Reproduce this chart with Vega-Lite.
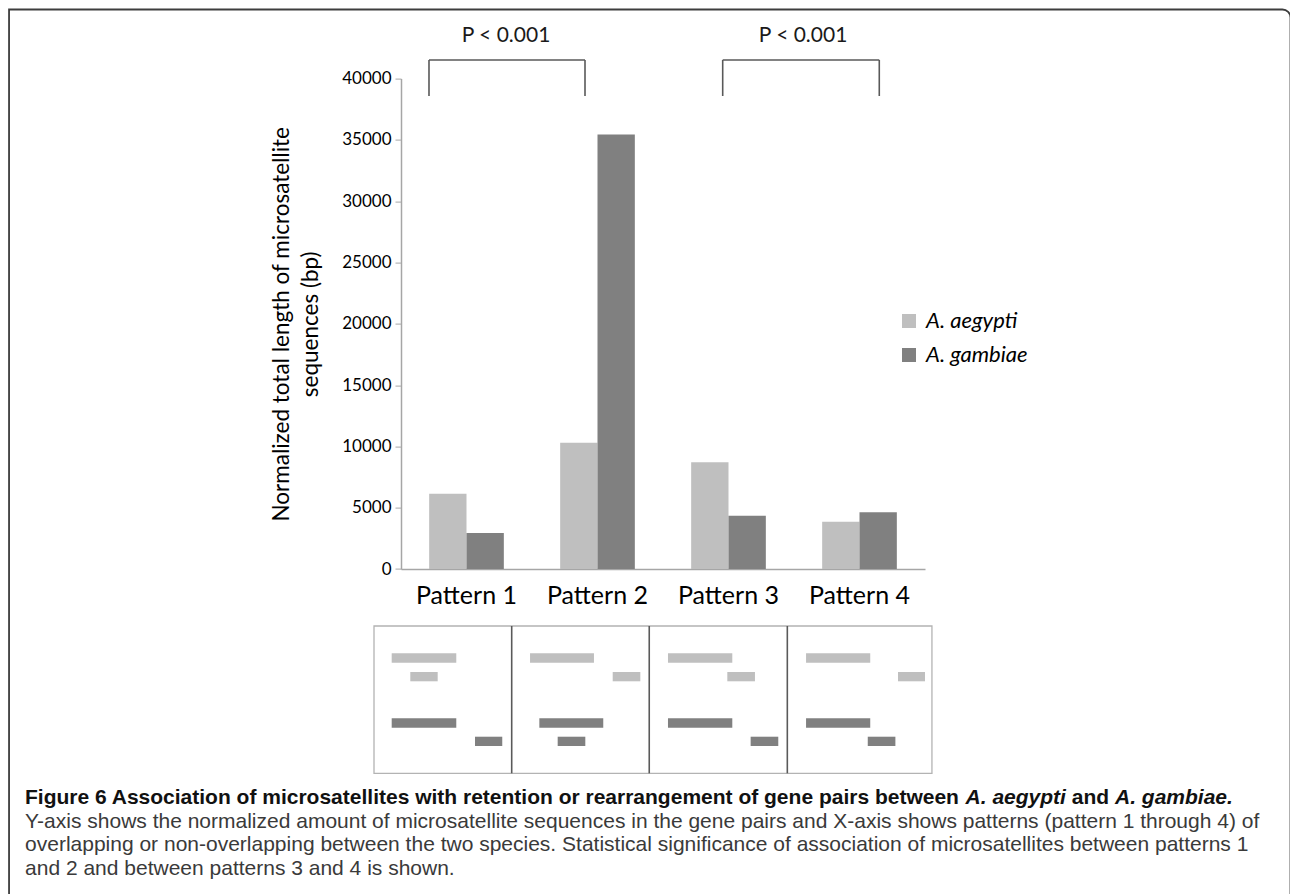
{
  "$schema": "https://vega.github.io/schema/vega-lite/v6.json",
  "width": 524,
  "height": 490.4,
  "autosize": {"type": "none"},
  "padding": {"left": 401, "top": 78.6, "right": 365, "bottom": 325},
  "background": "white",
  "config": {"view": {"stroke": null}, "font": "Lato"},
  "datasets": {
    "bars": [
      {"pattern": "Pattern 1", "species": "A. aegypti", "value": 6140},
      {"pattern": "Pattern 1", "species": "A. gambiae", "value": 2935},
      {"pattern": "Pattern 2", "species": "A. aegypti", "value": 10300},
      {"pattern": "Pattern 2", "species": "A. gambiae", "value": 35450},
      {"pattern": "Pattern 3", "species": "A. aegypti", "value": 8700},
      {"pattern": "Pattern 3", "species": "A. gambiae", "value": 4350},
      {"pattern": "Pattern 4", "species": "A. aegypti", "value": 3860},
      {"pattern": "Pattern 4", "species": "A. gambiae", "value": 4620}
    ],
    "brackets": [
      {"u1": 0.7137, "u2": 1.9046, "v1": 41517, "v2": 41517},
      {"u1": 0.7137, "u2": 0.7137, "v1": 41517, "v2": 38581},
      {"u1": 1.9046, "u2": 1.9046, "v1": 41517, "v2": 38581},
      {"u1": 2.9557, "u2": 4.151, "v1": 41517, "v2": 41517},
      {"u1": 2.9557, "u2": 2.9557, "v1": 41517, "v2": 38581},
      {"u1": 4.151, "u2": 4.151, "v1": 41517, "v2": 38581}
    ],
    "ptext": [
      {"label": "P < 0.001", "u": 1.3015, "v": 43010},
      {"label": "P < 0.001", "u": 3.569, "v": 43010}
    ],
    "dividers": [
      {"u": 1.345}, {"u": 2.395}, {"u": 3.449}
    ],
    "diagram": [
      {"species": "A. aegypti", "u1": 0.429, "u2": 0.922, "t1": -6876, "t2": -7643},
      {"species": "A. aegypti", "u1": 0.571, "u2": 0.780, "t1": -8401, "t2": -9160},
      {"species": "A. gambiae", "u1": 0.429, "u2": 0.922, "t1": -12178, "t2": -12945},
      {"species": "A. gambiae", "u1": 1.065, "u2": 1.273, "t1": -13679, "t2": -14437},
      {"species": "A. aegypti", "u1": 1.485, "u2": 1.973, "t1": -6876, "t2": -7643},
      {"species": "A. aegypti", "u1": 2.116, "u2": 2.327, "t1": -8401, "t2": -9160},
      {"species": "A. gambiae", "u1": 1.556, "u2": 2.044, "t1": -12178, "t2": -12945},
      {"species": "A. gambiae", "u1": 1.696, "u2": 1.907, "t1": -13679, "t2": -14437},
      {"species": "A. aegypti", "u1": 2.538, "u2": 3.029, "t1": -6876, "t2": -7643},
      {"species": "A. aegypti", "u1": 2.991, "u2": 3.202, "t1": -8401, "t2": -9160},
      {"species": "A. gambiae", "u1": 2.538, "u2": 3.029, "t1": -12178, "t2": -12945},
      {"species": "A. gambiae", "u1": 3.169, "u2": 3.380, "t1": -13679, "t2": -14437},
      {"species": "A. aegypti", "u1": 3.592, "u2": 4.082, "t1": -6876, "t2": -7643},
      {"species": "A. aegypti", "u1": 4.294, "u2": 4.500, "t1": -8401, "t2": -9160},
      {"species": "A. gambiae", "u1": 3.592, "u2": 4.082, "t1": -12178, "t2": -12945},
      {"species": "A. gambiae", "u1": 4.063, "u2": 4.274, "t1": -13679, "t2": -14437}
    ],
    "captionTitleUpright": [
      {"text": "Figure 6 Association of microsatellites with retention or rearrangement of gene pairs between", "u": -2.3702, "v": -19169},
      {"text": "and", "u": 5.6206, "v": -19169}
    ],
    "captionTitleItalic": [
      {"text": "A. aegypti", "u": 4.8099, "v": -19169},
      {"text": "A. gambiae.", "u": 5.9504, "v": -19169}
    ],
    "captionBody": [
      {"text": "Y-axis shows the normalized amount of microsatellite sequences in the gene pairs and X-axis shows patterns (pattern 1 through 4) of", "u": -2.37, "v": -21086},
      {"text": "overlapping or non-overlapping between the two species. Statistical significance of association of microsatellites between patterns 1", "u": -2.37, "v": -23003},
      {"text": "and 2 and between patterns 3 and 4 is shown.", "u": -2.37, "v": -24919}
    ],
    "border": [
      {"u1": -2.492, "u2": 7.29, "v1": 45636, "v2": -27406}
    ]
  },
  "layer": [
    {
      "data": {"name": "border"},
      "mark": {"type": "rect", "fill": "white", "fillOpacity": 0, "stroke": "#3d3d3d", "strokeWidth": 1.8, "cornerRadiusTopRight": 8},
      "encoding": {
        "x": {"field": "u1", "type": "quantitative", "scale": {"domain": [0.5, 4.5], "nice": false, "zero": false}, "axis": null},
        "x2": {"field": "u2"},
        "y": {"field": "v1", "type": "quantitative", "scale": {"domain": [0, 40000], "nice": false, "zero": false}, "axis": null},
        "y2": {"field": "v2"}
      }
    },
    {
      "data": {"name": "bars"},
      "mark": {"type": "bar"},
      "encoding": {
        "x": {
          "field": "pattern", "type": "nominal",
          "scale": {"paddingInner": 0.43, "paddingOuter": 0.215},
          "axis": {"title": null, "labelAngle": 0, "labelFontSize": 25, "labelColor": "#000", "ticks": false, "tickSize": 0, "labelPadding": 14, "domainColor": "#a6a6a6", "domainWidth": 1.5}
        },
        "xOffset": {"field": "species", "type": "nominal", "sort": ["A. aegypti", "A. gambiae"], "scale": {"paddingInner": 0, "paddingOuter": 0}},
        "y": {
          "field": "value", "type": "quantitative",
          "scale": {"domain": [0, 40000], "nice": false},
          "axis": {
            "values": [0, 5000, 10000, 15000, 20000, 25000, 30000, 35000, 40000],
            "format": "d", "grid": false, "labelFontSize": 17, "labelColor": "#000", "labelPadding": 4,
            "tickSize": 6, "tickColor": "#a6a6a6", "domainColor": "#a6a6a6", "domainWidth": 1.5,
            "title": ["Normalized total length of microsatellite", "sequences (bp)"],
            "titleFontSize": 22.5, "titleFontWeight": "normal", "titleColor": "#000", "titleLineHeight": 29, "titlePadding": 19
          }
        },
        "color": {
          "field": "species", "type": "nominal",
          "scale": {"domain": ["A. aegypti", "A. gambiae"], "range": ["#bfbfbf", "#808080"]},
          "legend": {"title": null, "orient": "none", "legendX": 497, "legendY": 231.4, "symbolType": "square", "symbolSize": 196, "symbolStrokeWidth": 0, "labelFontSize": 22, "labelFontStyle": "italic", "labelColor": "#000", "labelOffset": 6, "rowPadding": 12, "padding": 0}
        }
      }
    },
    {
      "data": {"name": "brackets"},
      "mark": {"type": "rule", "color": "#595959", "strokeWidth": 1.6},
      "encoding": {
        "x": {"field": "u1", "type": "quantitative", "scale": {"domain": [0.5, 4.5], "nice": false, "zero": false}, "axis": null},
        "x2": {"field": "u2"},
        "y": {"field": "v1", "type": "quantitative", "scale": {"domain": [0, 40000], "nice": false, "zero": false}, "axis": null},
        "y2": {"field": "v2"}
      }
    },
    {
      "data": {"name": "ptext"},
      "mark": {"type": "text", "fontSize": 21, "color": "#1a1a1a", "align": "center", "baseline": "alphabetic"},
      "encoding": {
        "x": {"field": "u", "type": "quantitative", "scale": {"domain": [0.5, 4.5], "nice": false, "zero": false}, "axis": null},
        "y": {"field": "v", "type": "quantitative", "scale": {"domain": [0, 40000], "nice": false, "zero": false}, "axis": null},
        "text": {"field": "label"}
      }
    },
    {
      "data": {"values": [{"panel": "frame"}]},
      "mark": {"type": "rect", "fill": "white", "fillOpacity": 0, "stroke": "#b3b3b3", "strokeWidth": 1.3},
      "encoding": {
        "x": {"datum": 0.2939, "type": "quantitative", "scale": {"domain": [0.5, 4.5], "nice": false, "zero": false}, "axis": null},
        "x2": {"datum": 4.553},
        "y": {"datum": -4649, "type": "quantitative", "scale": {"domain": [0, 40000], "nice": false, "zero": false}, "axis": null},
        "y2": {"datum": -16664}
      }
    },
    {
      "data": {"name": "dividers"},
      "mark": {"type": "rule", "color": "#5a5a5a", "strokeWidth": 1.6},
      "encoding": {
        "x": {"field": "u", "type": "quantitative", "scale": {"domain": [0.5, 4.5], "nice": false, "zero": false}, "axis": null},
        "y": {"datum": -4649, "type": "quantitative", "scale": {"domain": [0, 40000], "nice": false, "zero": false}, "axis": null},
        "y2": {"datum": -16664}
      }
    },
    {
      "data": {"name": "diagram"},
      "mark": {"type": "rect"},
      "encoding": {
        "x": {"field": "u1", "type": "quantitative", "scale": {"domain": [0.5, 4.5], "nice": false, "zero": false}, "axis": null},
        "x2": {"field": "u2"},
        "y": {"field": "t1", "type": "quantitative", "scale": {"domain": [0, 40000], "nice": false, "zero": false}, "axis": null},
        "y2": {"field": "t2"},
        "color": {"field": "species", "type": "nominal"}
      }
    },
    {
      "data": {"name": "captionTitleUpright"},
      "mark": {"type": "text", "font": "Liberation Sans", "fontSize": 21, "fontWeight": "bold", "color": "#111111", "align": "left", "baseline": "alphabetic"},
      "encoding": {
        "x": {"field": "u", "type": "quantitative", "scale": {"domain": [0.5, 4.5], "nice": false, "zero": false}, "axis": null},
        "y": {"field": "v", "type": "quantitative", "scale": {"domain": [0, 40000], "nice": false, "zero": false}, "axis": null},
        "text": {"field": "text"}
      }
    },
    {
      "data": {"name": "captionTitleItalic"},
      "mark": {"type": "text", "font": "Liberation Sans", "fontSize": 21, "fontWeight": "bold", "fontStyle": "italic", "color": "#111111", "align": "left", "baseline": "alphabetic"},
      "encoding": {
        "x": {"field": "u", "type": "quantitative", "scale": {"domain": [0.5, 4.5], "nice": false, "zero": false}, "axis": null},
        "y": {"field": "v", "type": "quantitative", "scale": {"domain": [0, 40000], "nice": false, "zero": false}, "axis": null},
        "text": {"field": "text"}
      }
    },
    {
      "data": {"name": "captionBody"},
      "mark": {"type": "text", "font": "Liberation Sans", "fontSize": 21, "color": "#3a3a3a", "align": "left", "baseline": "alphabetic"},
      "encoding": {
        "x": {"field": "u", "type": "quantitative", "scale": {"domain": [0.5, 4.5], "nice": false, "zero": false}, "axis": null},
        "y": {"field": "v", "type": "quantitative", "scale": {"domain": [0, 40000], "nice": false, "zero": false}, "axis": null},
        "text": {"field": "text"}
      }
    }
  ],
  "resolve": {"scale": {"x": "independent", "y": "independent"}, "axis": {"x": "independent", "y": "independent"}}
}
